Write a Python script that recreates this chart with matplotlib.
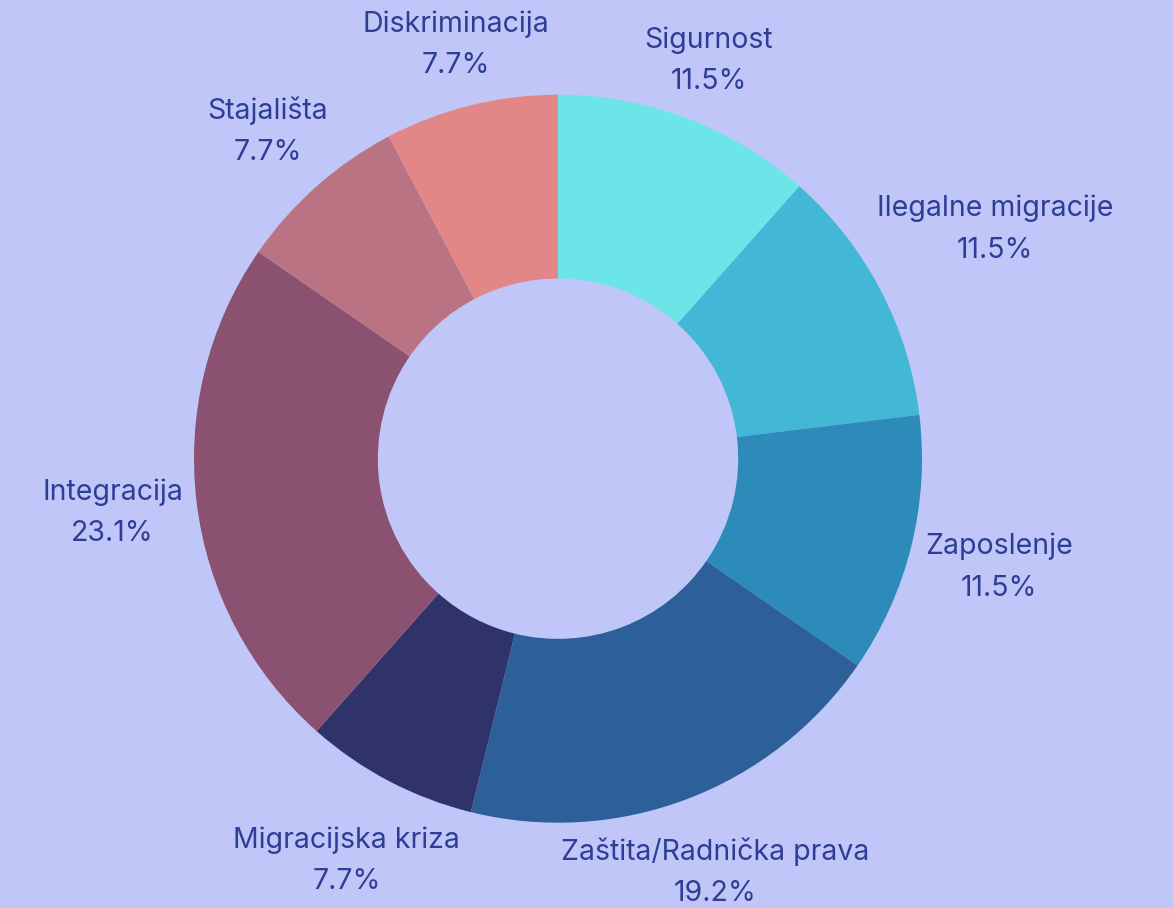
import numpy as np
import matplotlib
matplotlib.use("Agg")
import matplotlib.pyplot as plt

# topic counts (percentages shown are share of 26)
labels = ["Sigurnost", "Ilegalne migracije", "Zaposlenje", "Zaštita/Radnička prava",
          "Migracijska kriza", "Integracija", "Stajališta", "Diskriminacija"]
counts = [3, 3, 3, 5, 2, 6, 2, 2]
colors = ["#6CE5E8", "#42B7D6", "#2C8BB9", "#2D5F98",
          "#2F3369", "#8A5270", "#BA7383", "#E38687"]

BG = "#C0C7F8"
TXT = "#2E3D96"

W, H, DPI = 1173, 908, 100
fig = plt.figure(figsize=(W / DPI, H / DPI), dpi=DPI, facecolor=BG)
ax = fig.add_axes([0, 0, 1, 1])
ax.set_facecolor(BG)

# pie geometry in pixel units (radius 364 px, centre at 558,459 from top)
R = 364.0
cx, cy = 558.0, H - 458.7
wedges, _ = ax.pie(counts, colors=colors, startangle=90, counterclock=False,
                   radius=1.0, wedgeprops=dict(width=0.505, linewidth=0))
ax.set_xlim(-cx / R, (W - cx) / R)
ax.set_ylim(-cy / R, (H - cy) / R)
ax.set_aspect("equal")
ax.axis("off")

total = sum(counts)
fig.canvas.draw()
renderer = fig.canvas.get_renderer()
for w, lab, c in zip(wedges, labels, counts):
    ang = np.deg2rad((w.theta1 + w.theta2) / 2)
    ux, uy = np.cos(ang), np.sin(ang)
    t = ax.text(0, 0, f"{lab}\n{100 * c / total:.1f}%", ha="center", va="center",
                fontsize=20.5, family=["Inter", "DejaVu Sans"], color=TXT,
                linespacing=1.68)
    bb = t.get_window_extent(renderer)
    hw, hh = bb.width / 2, bb.height / 2
    # push label out so its edge clears the ring (pixels)
    d = 375 + abs(ux) * hw + abs(uy) * 30
    # pull back along the ray if it would leave the canvas
    if uy < 0 and cy + uy * d - hh < 1:
        d = (cy - hh - 1) / -uy
    if uy > 0 and cy + uy * d + hh > H - 1:
        d = (H - 1 - hh - cy) / uy
    t.set_position((ux * d / R, uy * d / R))

fig.savefig("out.png", dpi=DPI, facecolor=BG)
